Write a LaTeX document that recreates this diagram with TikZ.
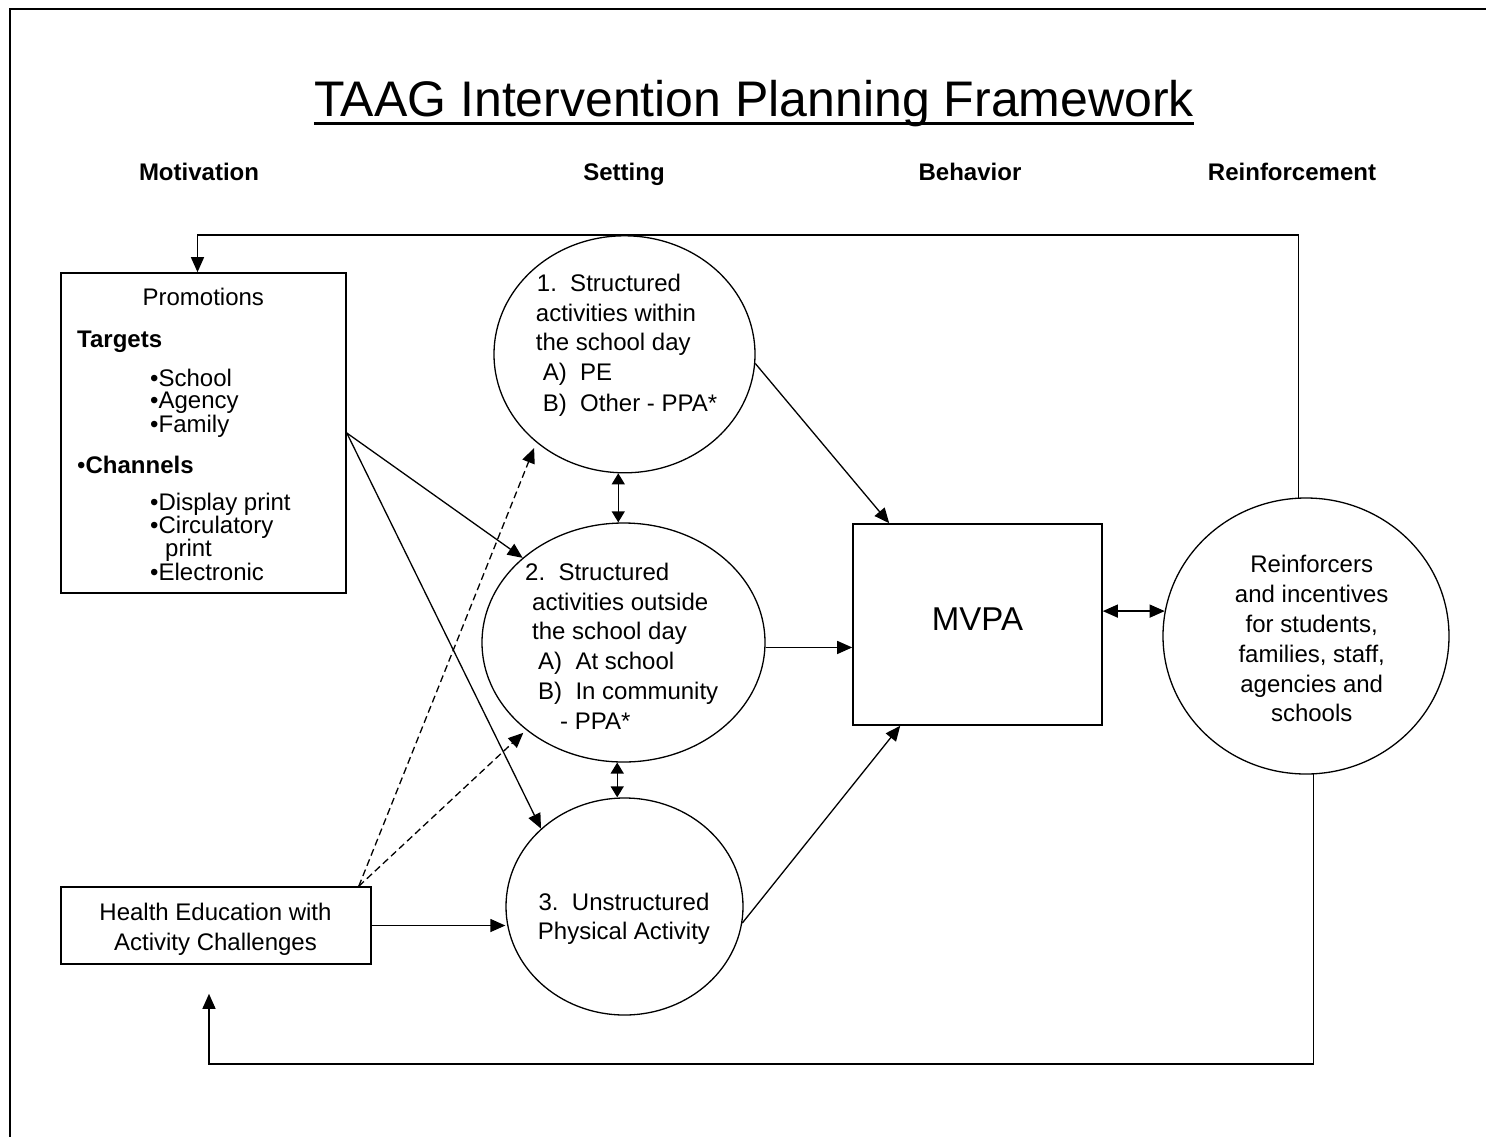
\documentclass[tikz,border=0pt]{standalone}
\usepackage{fontspec}
\setmainfont{Liberation Sans}
\usetikzlibrary{shapes.geometric,arrows.meta}
\begin{document}
\begin{tikzpicture}[x=1pt,y=-1pt,
  >={Triangle[length=15pt,width=13pt]},
  body/.style={font=\fontsize{24}{30}\selectfont, inner sep=0pt},
  lt/.style={body, anchor=base west},
  ct/.style={body, anchor=base},
  hdr/.style={font=\bfseries\fontsize{24}{30}\selectfont, inner sep=0pt, anchor=base},
  boxn/.style={draw, line width=1.6pt, rectangle, inner sep=0pt},
  oval/.style={draw, line width=1.3pt, ellipse, inner sep=0pt},
  conn/.style={line width=1.3pt},
  arr/.style={conn, ->},
  dbl/.style={conn, <->},
  sdbl/.style={conn, {Triangle[length=11pt,width=13pt]}-{Triangle[length=11pt,width=13pt]}},
  dsh/.style={conn, ->, dash pattern=on 7pt off 4pt}
]
\useasboundingbox (0,0) rectangle (1486,1136);
\clip (0,0) rectangle (1486,1136);
\fill[white] (0,0) rectangle (1486,1136);
% frame
\draw[line width=2.7pt] (10,9) rectangle (1530,1180);

% title
\node[font=\fontsize{50}{60}\selectfont, inner sep=0pt, anchor=base] (title) at (754,116.7) {TAAG Intervention Planning Framework};
\draw[line width=3pt] ([yshift=-6.5pt]title.base west) -- ([yshift=-6.5pt]title.base east);

% headers
\node[hdr] (hmot) at (199,180) {Motivation};
\node[hdr] (hset) at (624,180) {Setting};
\node[hdr] (hbeh) at (970,180) {Behavior};
\node[hdr] (hrei) at (1292,180) {Reinforcement};

% shapes
\node[boxn, minimum width=285pt, minimum height=320pt] (promo) at (203.5,433) {};
\node[boxn, minimum width=310pt, minimum height=77pt] (health) at (216,925.5) {};
\node[boxn, minimum width=249pt, minimum height=201pt] (mvpa) at (977.5,624.5) {};
\node[oval, minimum width=261pt, minimum height=237pt] (c1) at (624.5,354.3) {};
\node[oval, minimum width=283pt, minimum height=239pt] (c2) at (623.5,642.5) {};
\node[oval, minimum width=237pt, minimum height=217pt] (c3) at (624.5,906.5) {};
\node[oval, minimum width=286pt, minimum height=276pt] (rf) at (1306,636) {};

% promotions text
\node[ct] (pt0) at (203.3,305) {Promotions};
\node[lt, font=\bfseries\fontsize{24}{30}\selectfont] (pt1) at (77,347) {Targets};
\node[lt] (pt2) at (150,386.5) {•School};
\node[lt] (pt3) at (150,408.5) {•Agency};
\node[lt] (pt4) at (150,432.5) {•Family};
\node[lt] (pt5) at (77,473) {•\textbf{Channels}};
\node[lt] (pt6) at (150,510) {•Display print};
\node[lt] (pt7) at (150,533) {•Circulatory};
\node[lt] (pt8) at (165,556) {print};
\node[lt] (pt9) at (150,580) {•Electronic};

% circle 1 text
\node[lt] (a1) at (536.7,291.7) {1.\ \ Structured};
\node[lt] (a2) at (535.7,321.7) {activities within};
\node[lt] (a3) at (535.7,350.7) {the school day};
\node[lt] (a4) at (542.7,380.7) {A)\ \ PE};
\node[lt] (a5) at (542.7,411.7) {B)\ \ Other - PPA*};

% circle 2 text
\node[lt] (b1) at (525,580) {2.\ \ Structured};
\node[lt] (b2) at (532,610) {activities outside};
\node[lt] (b3) at (532,639) {the school day};
\node[lt] (b4) at (538,669) {A)\ \ At school};
\node[lt] (b5) at (538,699) {B)\ \ In community};
\node[lt] (b6) at (560,729) {- PPA*};

% circle 3 text
\node[ct] (d1) at (624,910) {3.\ \ Unstructured};
\node[ct] (d2) at (624,939) {Physical Activity};

% health text
\node[ct] (h1) at (215.5,920) {Health Education with};
\node[ct] (h2) at (215.5,950) {Activity Challenges};

% MVPA text
\node[font=\fontsize{33}{40}\selectfont, inner sep=0pt, anchor=base] (mt) at (977.5,630) {MVPA};

% reinforcers text
\foreach \yy/\tt [count=\i] in {572.7/Reinforcers, 602.7/and incentives, 632.7/{for students,}, 662.7/{families, staff,}, 692.7/agencies and, 721.7/schools}
  \node[ct] (rt\i) at (1311.7,\yy) {\tt};

% connectors
\draw[arr] (promo.east) -- (c2.140);
\draw[arr] (promo.east) -- (c3.137);
\draw[dsh, shorten >=6pt] ([xshift=-13pt]health.north east) -- (c1.225);
\draw[dsh, shorten >=4pt] ([xshift=-13pt]health.north east) -- (c2.222);
\draw[arr] (health.east) -- (health.east -| c3.west);
\draw[arr] (c1.-4) -- ([xshift=37pt]mvpa.north west);
\draw[arr] (c2.-2) -- (c2.-2 -| mvpa.west);
\draw[arr] (c3.-8) -- ([xshift=48pt]mvpa.south west);
\draw[dbl] (rf.170 -| mvpa.east) -- (rf.170);
\draw[sdbl] (c1.267) -- (c1.267 |- c2.north);
\draw[sdbl] (c2.267) -- (c2.267 |- c3.north);

% feedback loops
\coordinate (topy) at (700,235);
\coordinate (boty) at (700,1064);
\coordinate (hend) at ([xshift=-7pt,yshift=-29pt]health.south);
\draw[arr] (rf.93) |- (topy) -| ([xshift=-6pt]promo.north);
\draw[arr] (rf.-87) |- (boty) -| (hend);
\end{tikzpicture}
\end{document}
